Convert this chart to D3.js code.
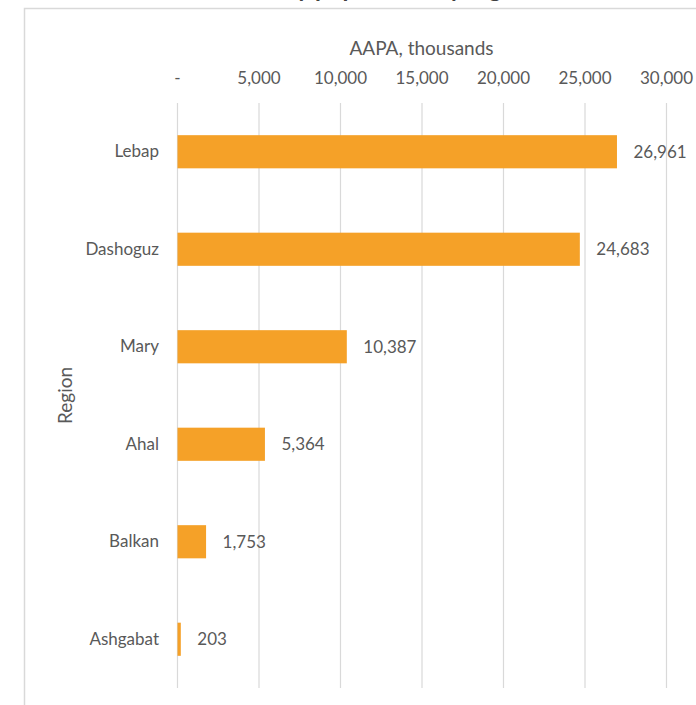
<!DOCTYPE html>
<html>
<head>
<meta charset="utf-8">
<script src="https://cdn.jsdelivr.net/npm/d3@7/dist/d3.min.js"></script>
<style>
  html, body { margin: 0; padding: 0; background: #ffffff; }
  svg { display: block; }
  text { font-family: Lato, "Open Sans", sans-serif; fill: #595959; }
</style>
</head>
<body>
<script>
// AAPA by region, thousands
const regions = ["Lebap", "Dashoguz", "Mary", "Ahal", "Balkan", "Ashgabat"];
const aapa = [26961, 24683, 10387, 5364, 1753, 203];
const tickValues = [0, 5000, 10000, 15000, 20000, 25000, 30000];
const tickLabels = ["-", "5,000", "10,000", "15,000", "20,000", "25,000", "30,000"];

const W = 696, H = 705;
const margin = { left: 177, right: 30, top: 103, bottom: 17 };

const svg = d3.select("body").append("svg")
  .attr("width", W).attr("height", H);

// chart area frame (partly cut by the page edges)
svg.append("rect")
  .attr("x", 24.5).attr("y", 8.5)
  .attr("width", W).attr("height", H)
  .attr("fill", "#ffffff")
  .attr("stroke", "#d9d9d9").attr("stroke-width", 1.5);

// chart title, mostly above the visible page
svg.append("text")
  .attr("x", 375).attr("y", -3)
  .attr("text-anchor", "middle")
  .attr("font-size", 24).attr("font-weight", "bold")
  .style("fill", "#404040")
  .text("AAPA by population by region");

const x = d3.scaleLinear()
  .domain([0, 30000])
  .range([margin.left, W - margin.right]);

const y = d3.scaleBand()
  .domain(regions)
  .range([margin.top, H - margin.bottom])
  .paddingInner(0.66)
  .paddingOuter(0.33);

// vertical gridlines
svg.append("g")
  .selectAll("line")
  .data(tickValues)
  .join("line")
  .attr("x1", d => x(d) + 0.5).attr("x2", d => x(d) + 0.5)
  .attr("y1", margin.top).attr("y2", H - margin.bottom)
  .attr("stroke", "#d9d9d9").attr("stroke-width", 1.2);

// top axis with tick labels
const xAxis = d3.axisTop(x)
  .tickValues(tickValues)
  .tickFormat((d, i) => tickLabels[i])
  .tickSize(0)
  .tickPadding(0);
const gx = svg.append("g")
  .attr("transform", "translate(0,78)")
  .call(xAxis);
gx.select(".domain").remove();
gx.selectAll("text")
  .attr("font-size", 17)
  .attr("dy", "0.35em")
  .style("font-family", "Lato, sans-serif")
  .style("fill", "#595959");

// x axis title
svg.append("text")
  .attr("x", (x(0) + x(30000)) / 2)
  .attr("y", 55)
  .attr("text-anchor", "middle")
  .attr("font-size", 19)
  .text("AAPA, thousands");

// left axis with region names
const yAxis = d3.axisLeft(y).tickSize(0).tickPadding(18);
const gy = svg.append("g")
  .attr("transform", `translate(${x(0)},0)`)
  .call(yAxis);
gy.select(".domain").remove();
gy.selectAll("text")
  .attr("font-size", 17)
  .style("font-family", "Lato, sans-serif")
  .style("fill", "#595959");

// y axis title
svg.append("text")
  .attr("transform", `translate(72,${(margin.top + H - margin.bottom) / 2}) rotate(-90)`)
  .attr("text-anchor", "middle")
  .attr("font-size", 19)
  .text("Region");

// bars
const rows = regions.map((r, i) => ({ region: r, value: aapa[i] }));
svg.append("g")
  .selectAll("rect")
  .data(rows)
  .join("rect")
  .attr("x", x(0) + 0.5)
  .attr("y", d => y(d.region))
  .attr("width", d => x(d.value) - x(0))
  .attr("height", y.bandwidth())
  .attr("fill", "#f5a128");

// value labels
svg.append("g")
  .selectAll("text")
  .data(rows)
  .join("text")
  .attr("x", d => x(d.value) + 17)
  .attr("y", d => y(d.region) + y.bandwidth() / 2)
  .attr("dy", "0.36em")
  .attr("font-size", 17)
  .text(d => d3.format(",")(d.value));
</script>
</body>
</html>
